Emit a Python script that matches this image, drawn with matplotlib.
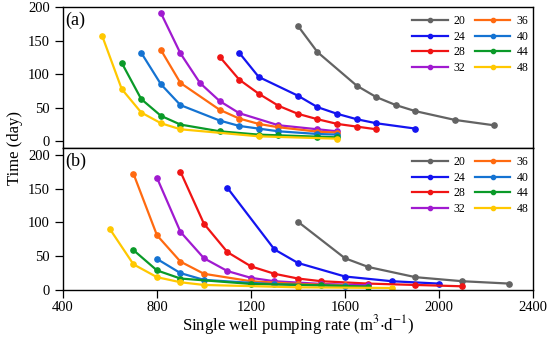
import matplotlib
matplotlib.use('Agg')
import matplotlib.pyplot as plt

plt.rcParams['font.family'] = ['Liberation Serif', 'DejaVu Serif']
plt.rcParams['mathtext.fontset'] = 'stix'

# well spacing labels and colours
labels = ['20', '24', '28', '32', '36', '40', '44', '48']
colors = ['#636363', '#1414f0', '#f01414', '#a01ad0', '#ff6a10', '#1473d2', '#0a9a28', '#ffc800']

# panel (a): pumping rate vs time
q_a = [
    [1400, 1483, 1650, 1733, 1817, 1900, 2067, 2233],
    [1150, 1233, 1400, 1483, 1567, 1650, 1733, 1900],
    [1067, 1150, 1233, 1317, 1400, 1483, 1567, 1650, 1733],
    [817, 900, 983, 1067, 1150, 1317, 1483, 1567],
    [817, 900, 1067, 1150, 1233, 1317, 1483, 1567],
    [733, 817, 900, 1067, 1150, 1233, 1317, 1483, 1567],
    [650, 733, 817, 900, 1067, 1233, 1317, 1483, 1567],
    [567, 650, 733, 817, 900, 1233, 1567],
]
t_a = [
    [172, 133, 83, 66, 54, 45, 32, 24],
    [132, 96, 68, 51, 41, 33, 27, 19],
    [126, 92, 71, 53, 41, 33, 26, 22, 18],
    [191, 131, 87, 60, 42, 24, 18, 15],
    [136, 87, 47, 34, 26, 21, 14.5, 13],
    [132, 85, 54, 31, 23, 19, 15, 11, 10],
    [117, 63, 38, 25, 15, 10, 9, 7, 6],
    [157, 78, 43, 27, 18, 7.5, 4],
]

# panel (b)
q_b = [
    [1400, 1600, 1700, 1900, 2100, 2300],
    [1100, 1300, 1400, 1600, 1800, 2000],
    [900, 1000, 1100, 1200, 1300, 1400, 1500, 1700, 1900, 2100],
    [800, 900, 1000, 1100, 1200, 1300, 1500, 1700],
    [700, 800, 900, 1000, 1200, 1400, 1600],
    [800, 900, 1000, 1300, 1600],
    [700, 800, 900, 1200, 1500, 1700],
    [600, 700, 800, 900, 1000, 1400, 1800],
]
t_b = [
    [101, 47, 34, 19, 13, 9.5],
    [151, 60, 40, 20, 13, 9.5],
    [175, 98, 56, 35, 24, 17, 13, 9.5, 7.5, 5.5],
    [166, 86, 47, 28, 18, 13, 9, 7],
    [172, 81, 42, 24, 13, 9, 7],
    [46, 25, 15, 8.5, 6],
    [59, 29, 17, 9, 7, 5],
    [90, 38, 19, 11.5, 7.5, 4, 3],
]

fig = plt.figure(figsize=(5.5, 3.4), dpi=100)
ax1 = fig.add_axes([0.1145, 0.5645, 0.8545, 0.4145])
ax2 = fig.add_axes([0.1145, 0.147, 0.8545, 0.4175], sharex=ax1)

for ax, qs, ts, tag, ylim in [(ax1, q_a, t_a, '(a)', (-10, 200)), (ax2, q_b, t_b, '(b)', (0, 210))]:
    for q, t, c, lab in zip(qs, ts, colors, labels):
        ax.plot(q, t, '-o', color=c, lw=1.6, ms=3.8, label=lab)
    ax.set_ylim(*ylim)
    ax.set_yticks([0, 50, 100, 150, 200])
    ax.tick_params(direction='out', length=6, width=0.9, labelsize=10.5, colors='black')
    for s in ax.spines.values():
        s.set_linewidth(1.0)
    ax.text(0.004, 0.97, tag, transform=ax.transAxes, fontsize=13, va='top', ha='left')
    leg = ax.legend(ncol=2, loc='upper right', bbox_to_anchor=(1.005, 0.995), frameon=False,
                    fontsize=8.5, handlelength=3.0, handletextpad=0.5, columnspacing=0.8,
                    labelspacing=0.32, borderaxespad=0.2, markerscale=0.8)

ax1.set_xlim(400, 2400)
ax1.tick_params(axis='x', bottom=False, labelbottom=False)
ax2.set_xticks([400, 800, 1200, 1600, 2000, 2400])
ax2.tick_params(axis='x', pad=2)
ax2.set_xlabel('Single well pumping rate (m$^3$$\\cdot$d$^{-1}$)', fontsize=12, labelpad=-1)
fig.text(0.028, 0.565, 'Time (day)', rotation=90, fontsize=12, ha='center', va='center')

fig.savefig('out.png', dpi=100)
